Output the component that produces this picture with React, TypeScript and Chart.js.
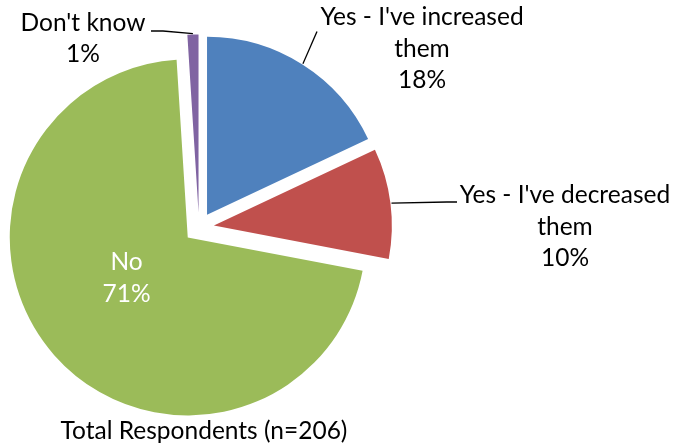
import React, { useEffect, useRef } from 'react';
import { Chart, registerables, ArcElement } from 'chart.js';

Chart.register(...registerables);

// ---- data ----
const categories = ["Yes - I've increased them", "Yes - I've decreased them", 'No', "Don't know"];
const values = [18, 10, 71, 1];
const percentLabels = ['18%', '10%', '71%', '1%'];
const labelTextLines = [["Yes - I've increased", 'them'], ["Yes - I've decreased", 'them'], ['No'], ["Don't know"]];
const titleText = 'Total Respondents (n=206)';

// ---- style ----
const colors = ['#4F81BD', '#C0504D', '#9BBB59', '#8064A2'];
const FONT = 'Lato, "Noto Sans", sans-serif';
const FONT_SIZE = 24.5;
const CAP_RATIO = 0.68;
const LINE_H = 31.5;
const EXPLODE = 15;
const RADIUS = 178;
// label placement relative to pie centre: text centre x, first-line cap-centre y, leader points
const placement = [
  { dx: 223, dy: -210.5, color: '#000', leader: [[118, -196]] },
  { dx: 366, dy: -32.5, color: '#000', leader: [[258, -25.5], [248, -25.5]] },
  { dx: -72.5, dy: 34.5, color: '#fff', leader: [] as number[][] },
  { dx: -116, dy: -205, color: '#000', leader: [[-48, -196.5], [-36, -196.5]] },
];
const titlePos = { dx: 5, dy: 203 };

// arc that is translated outward by its offset (Excel-like explosion, same radius)
class ExplodedArc extends ArcElement {
  static id = 'explodedArc';
  draw(ctx: CanvasRenderingContext2D) {
    const self: any = this;
    const o = self.options;
    const d = o.offset || 0;
    const mid = (self.startAngle + self.endAngle) / 2;
    ctx.save();
    ctx.translate(Math.cos(mid) * d, Math.sin(mid) * d);
    self.options = { ...o, offset: 0 };
    super.draw(ctx);
    self.options = o;
    ctx.restore();
  }
}
Chart.register(ExplodedArc as any);
(Chart.defaults.datasets as any).pie.dataElementType = 'explodedArc';

const labelPlugin = {
  id: 'excelLabels',
  afterDatasetsDraw(chart: any) {
    const ctx: CanvasRenderingContext2D = chart.ctx;
    const meta = chart.getDatasetMeta(0);
    const capHalf = FONT_SIZE * CAP_RATIO / 2;
    ctx.save();
    ctx.font = `${FONT_SIZE}px ${FONT}`;
    ctx.textAlign = 'center';
    ctx.textBaseline = 'alphabetic';
    let cx = 0, cy = 0;
    meta.data.forEach((arc: any, i: number) => {
      const p = arc.getProps(['x', 'y', 'startAngle', 'endAngle', 'outerRadius'], true);
      cx = p.x; cy = p.y;
      const d = arc.options.offset || 0;
      const mid = (p.startAngle + p.endAngle) / 2;
      const pl = placement[i];
      if (pl.leader.length) {
        const ex = p.x + Math.cos(mid) * (p.outerRadius + d + 1);
        const ey = p.y + Math.sin(mid) * (p.outerRadius + d + 1);
        ctx.beginPath();
        ctx.strokeStyle = '#000';
        ctx.lineWidth = 1.3;
        pl.leader.forEach((pt, k) => {
          if (k === 0) ctx.moveTo(p.x + pt[0], p.y + pt[1]);
          else ctx.lineTo(p.x + pt[0], p.y + pt[1]);
        });
        ctx.lineTo(ex, ey);
        ctx.stroke();
      }
      const lines = [...labelTextLines[i], percentLabels[i]];
      ctx.fillStyle = pl.color;
      lines.forEach((t, k) => {
        ctx.fillText(t, p.x + pl.dx, p.y + pl.dy + k * LINE_H + capHalf);
      });
    });
    ctx.fillStyle = '#000';
    ctx.fillText(titleText, cx + titlePos.dx, cy + titlePos.dy + capHalf);
    ctx.restore();
  },
};

export default function App() {
  const ref = useRef<HTMLCanvasElement | null>(null);
  useEffect(() => {
    if (!ref.current) return;
    const chart = new Chart(ref.current, {
      type: 'pie',
      data: {
        labels: categories,
        datasets: [
          {
            data: values,
            backgroundColor: colors,
            borderWidth: 0,
            offset: EXPLODE,
            radius: RADIUS,
          } as any,
        ],
      },
      options: {
        responsive: false,
        animation: false,
        layout: { padding: { left: 0, right: 276, top: 10, bottom: 0 } },
        plugins: {
          legend: { display: false },
          tooltip: { enabled: false },
          title: { display: false },
        },
      },
      plugins: [labelPlugin],
    });
    return () => chart.destroy();
  }, []);
  return (
    <div style={{ position: 'fixed', left: 0, top: 0, width: 674, height: 445, background: '#fff' }}>
      <canvas ref={ref} width={674} height={445} style={{ display: 'block' }} />
    </div>
  );
}
